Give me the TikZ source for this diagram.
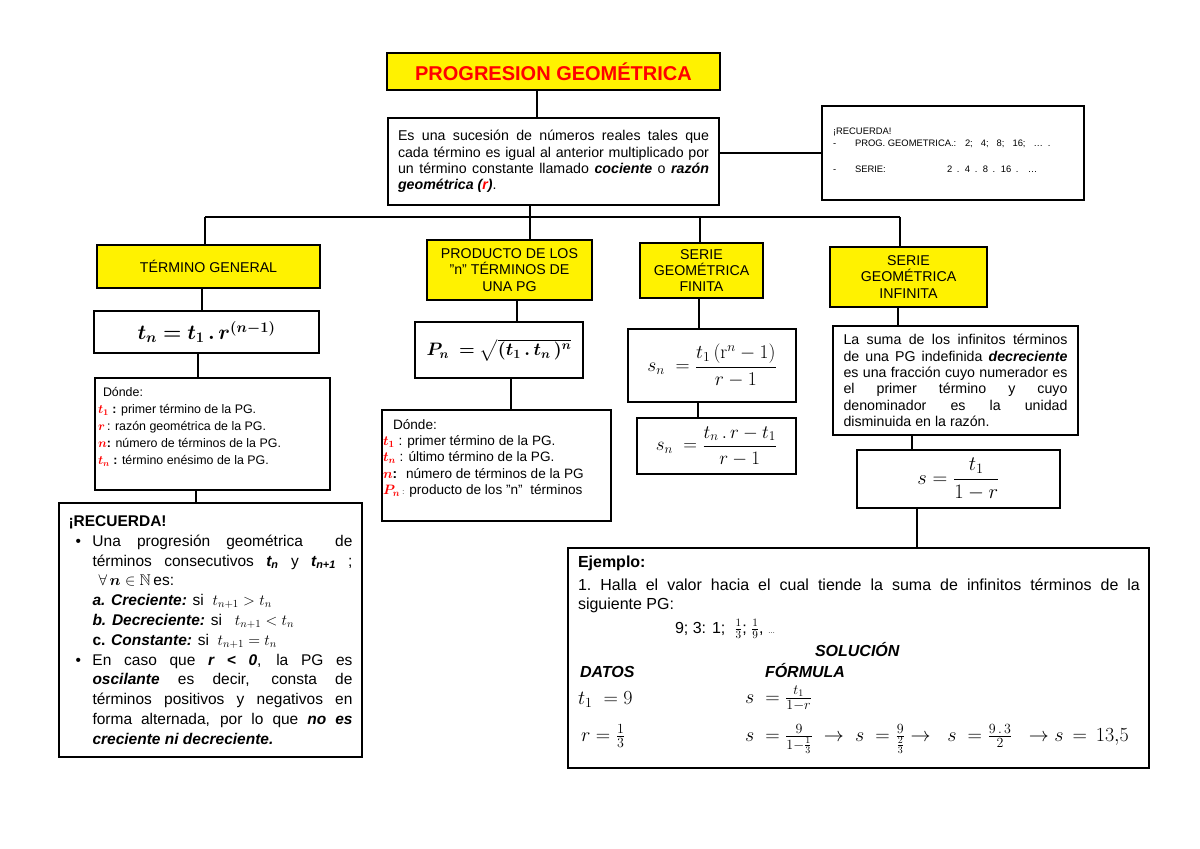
\documentclass[tikz,border=0pt]{standalone}
\usepackage{fix-cm}
\usepackage{amsmath,amssymb,bm}
\usepackage[no-math]{fontspec}
\setmainfont{Liberation Sans}
\usetikzlibrary{calc}
\newcommand{\redtx}[1]{\textcolor{red}{#1}}
\newcommand{\bfitx}[1]{\textbf{\textit{#1}}}
\newcommand{\ejfont}{\fontsize{16}{18.5}\selectfont}
\newcommand{\ejmath}{\fontsize{20}{22}\selectfont}
\begin{document}
\begin{tikzpicture}[x=1pt,y=-1pt,
  box/.style={draw=black, line width=1.3pt, fill=white, inner sep=0pt, outer sep=0pt, anchor=north west},
  ybox/.style={box, fill=yellow},
  conn/.style={line width=1.9pt},
  body/.style={font=\fontsize{14.2}{16.4}\selectfont},
  plain/.style={inner sep=0pt, outer sep=0pt}
]
\fill[white] (0,0) rectangle (1200,849);
\useasboundingbox (0,0) rectangle (1200,849);

% ---------- junction coordinates ----------
\coordinate (kT) at (537,0);
\coordinate (kR) at (0,153);
\coordinate (busL) at (205,217);
\coordinate (busC) at (530,217);
\coordinate (busF) at (700,217);
\coordinate (busR) at (900,217);
\coordinate (k1) at (202,0);
\coordinate (k2) at (198,0);
\coordinate (k3) at (196,0);
\coordinate (k4) at (517,0);
\coordinate (k5) at (511,0);
\coordinate (k6) at (699,0);
\coordinate (k7) at (698,0);
\coordinate (k8) at (898,0);
\coordinate (k9) at (912,0);
\coordinate (k10) at (917,0);

% ---------- boxes ----------
\node[ybox, minimum width=333, minimum height=37] (title) at (387,53)
  {\fontsize{20}{24}\selectfont\bfseries\color{red}PROGRESION GEOMÉTRICA};

\node[box, body, minimum width=331, minimum height=87, text width=311, align=justify] (def) at (388,118)
  {Es una sucesión de números reales tales que\linebreak cada término es igual al anterior multiplicado por\linebreak un término constante llamado \bfitx{cociente} o \bfitx{razón}\linebreak \bfitx{geométrica (\redtx{r})}.};

\node[box, minimum width=262, minimum height=94] (rec1) at (822,106) {};
\node[plain, anchor=north west, align=left, font=\fontsize{9.4}{12}\selectfont] (rec1t) at (833,128)
  {¡RECUERDA!\\
   \makebox[22pt][l]{-}\makebox[110pt][l]{PROG. GEOMETRICA.:}2;\hspace{8pt}4;\hspace{8pt}8;\hspace{8pt}16;\hspace{8pt}\dots\hspace{5pt}.\\[14pt]
   \makebox[22pt][l]{-}\makebox[92pt][l]{SERIE:}2\hspace{2pt} .\hspace{2pt} 4\hspace{2pt} .\hspace{2pt} 8\hspace{2pt} .\hspace{2pt} 16\hspace{2pt} .\hspace{6pt} \dots};

% column 1
\node[ybox, body, minimum width=223, minimum height=43] (tg) at (97,245) {TÉRMINO GENERAL};
\node[box, minimum width=225, minimum height=42, font=\fontsize{21}{24}\selectfont] (f1) at (94,311)
  {$\boldsymbol{t_n = t_1\,.\,r^{(n-1)}}$};
\node[box, minimum width=235, minimum height=112] (d1) at (95,378) {};
\node[plain, anchor=north west, align=left, font=\fontsize{12.4}{17.2}\selectfont] (d1t) at (98,387)
  {\hspace*{5pt}Dónde:\\
   \redtx{$\boldsymbol{t_1}$} \textbf{:} primer término de la PG.\\
   \redtx{$\boldsymbol{r}$}\,: razón geométrica de la PG.\\
   \redtx{$\boldsymbol{n}$}\textbf{:} número de términos de la PG.\\
   \redtx{$\boldsymbol{t_n}$} \textbf{:} término enésimo de la PG.};

\node[box, minimum width=303, minimum height=254, text width=284, align=justify, font=\fontsize{15.5}{19.8}\selectfont] (rec2) at (59,503)
  {\textbf{¡RECUERDA!}\par
   \hangindent=24pt\hangafter=1\noindent\makebox[24pt][l]{\hspace{7pt}\textbullet}Una progresión geométrica\ \ de\linebreak
   términos consecutivos \bfitx{t\textsubscript{n}} y \bfitx{t\textsubscript{n+1}}\ ;\linebreak
   \hspace*{6pt}$\forall\,\boldsymbol{n}\in\mathbb{N}$\,es:\\
   \bfitx{a. Creciente:} si\ \ $t_{n+1}>t_n$\\
   \bfitx{b. Decreciente:} si\ \ \ $t_{n+1}<t_n$\\
   \textbf{c. \textit{Constante:}} si\ \ $t_{n+1}=t_n$\par
   \hangindent=24pt\hangafter=1\noindent\makebox[24pt][l]{\hspace{7pt}\textbullet}En caso que \bfitx{r < 0}, la PG es\linebreak
   \bfitx{oscilante} es decir, consta de\linebreak
   términos positivos y negativos en\linebreak
   forma alternada, por lo que \bfitx{no es}\linebreak
   \bfitx{creciente ni decreciente.}\par};

% column 2
\node[ybox, body, minimum width=165, minimum height=60, align=center] (prod) at (427,240)
  {PRODUCTO DE LOS\\"n" TÉRMINOS DE\\UNA PG};
\node[box, minimum width=168, minimum height=56, font=\fontsize{18}{21}\selectfont] (f2) at (415,322)
  {$\boldsymbol{P_n\ = \sqrt{(t_1\,.\,t_n\,)^n}}$};
\node[box, minimum width=229, minimum height=111] (d2) at (382,410) {};
\node[plain, anchor=north west, align=left, font=\fontsize{13.6}{16.4}\selectfont] (d2t) at (383,419)
  {\hspace*{10pt}Dónde:\\
   \redtx{$\boldsymbol{t_1}$} : primer término de la PG.\\
   \redtx{$\boldsymbol{t_n}$} : último término de la PG.\\
   \redtx{$\boldsymbol{n}$}\textbf{:} \ número de términos de la PG\\
   \redtx{$\boldsymbol{P_n}$}\,{\scriptsize:} producto de los "n"\ \ términos};

% column 3
\node[ybox, body, minimum width=123, minimum height=55, align=center, font=\fontsize{14.2}{16}\selectfont] (sf) at (640,243)
  {SERIE\\GEOMÉTRICA\\FINITA};
\node[box, minimum width=168, minimum height=73, font=\fontsize{19.5}{22}\selectfont] (f3) at (628,329)
  {$s_n\ =\dfrac{t_1\,(\mathrm{r}^n-1)}{r-1}$};
\node[box, minimum width=159, minimum height=56, font=\fontsize{19}{22}\selectfont] (f4) at (637,418)
  {$s_n\ =\dfrac{t_n\,.\,r-t_1}{r-1}$};

% column 4
\node[ybox, body, minimum width=157, minimum height=60, align=center] (si) at (830,247)
  {SERIE\\GEOMÉTRICA\\INFINITA};
\node[box, body, minimum width=245, minimum height=109, text width=224, align=justify] (it) at (833,326)
  {La suma de los infinitos términos\linebreak de una PG indefinida \bfitx{decreciente}\linebreak es una fracción cuyo numerador es\linebreak el primer término y cuyo\linebreak denominador es la unidad\linebreak disminuida en la razón.};
\node[box, minimum width=203, minimum height=58, font=\fontsize{20.5}{23}\selectfont] (f5) at (857,450)
  {$s=\dfrac{t_1}{1-r}$};

% example
\node[box, minimum width=581, minimum height=220] (ej) at (568,548) {};
\node[plain, anchor=base west, font=\ejfont\bfseries] (ej1) at (578,567) {Ejemplo:};
\node[plain, anchor=north west, text width=562, align=justify, font=\ejfont] (ej2) at (578,579)
  {\hangindent=19pt\hangafter=1 1.\ Halla el valor hacia el cual tiende la suma de infinitos términos de la\linebreak siguiente PG:};
\node[plain, anchor=base west, font=\ejfont] (ej3) at (675,633)
  {9; 3: 1;\ \ $\frac{1}{3}$; $\frac{1}{9}$, {\scriptsize\dots}};
\node[plain, anchor=base west, font=\ejfont\bfseries\itshape] (ej4) at (815,656) {SOLUCIÓN};
\node[plain, anchor=base west, font=\ejfont\bfseries\itshape] (ej5) at (580,677) {DATOS};
\node[plain, anchor=base west, font=\ejfont\bfseries\itshape] (ej6) at (765,677) {FÓRMULA};
\node[plain, anchor=base west, font=\ejmath] (ej7) at (578,704) {$t_1\ = 9$};
\node[plain, anchor=base west, font=\ejmath] (ej8) at (745,703) {$s\ =\frac{t_1}{1-r}$};
\node[plain, anchor=base west, font=\ejmath] (ej9) at (581,741) {$r=\frac{1}{3}$};
\node[plain, anchor=base west, font=\ejmath] (ej10) at (745,741)
  {$s\ =\frac{9}{1-\frac{1}{3}}\ \to\ s\ =\frac{9}{\frac{2}{3}}\to\ \ s\ =\frac{9\,.\,3}{2}\ \ \to s\,=\,13{,}5$};

% ---------- connectors ----------
\draw[conn] (title.south -| kT) -- (def.north -| kT);
\draw[line width=2.6pt] (def.east |- kR) -- (rec1.west |- kR);
\draw[conn] (def.south -| busC) -- (prod.north -| busC);
\draw[conn] (busL) -- (busR);
\draw[conn] (busL) -- (tg.north -| busL);
\draw[conn] (busF) -- (sf.north -| busF);
\draw[conn] (busR) -- (si.north -| busR);
\draw[conn] (tg.south -| k1) -- (f1.north -| k1);
\draw[conn] (f1.south -| k2) -- (d1.north -| k2);
\draw[conn] (d1.south -| k3) -- (rec2.north -| k3);
\draw[conn] (prod.south -| k4) -- (f2.north -| k4);
\draw[conn] (f2.south -| k5) -- (d2.north -| k5);
\draw[conn] (sf.south -| k6) -- (f3.north -| k6);
\draw[conn] (f3.south -| k7) -- (f4.north -| k7);
\draw[conn] (si.south -| k8) -- (it.north -| k8);
\draw[conn] (it.south -| k9) -- (f5.north -| k9);
\draw[conn] (f5.south -| k10) -- (ej.north -| k10);
\end{tikzpicture}
\end{document}
